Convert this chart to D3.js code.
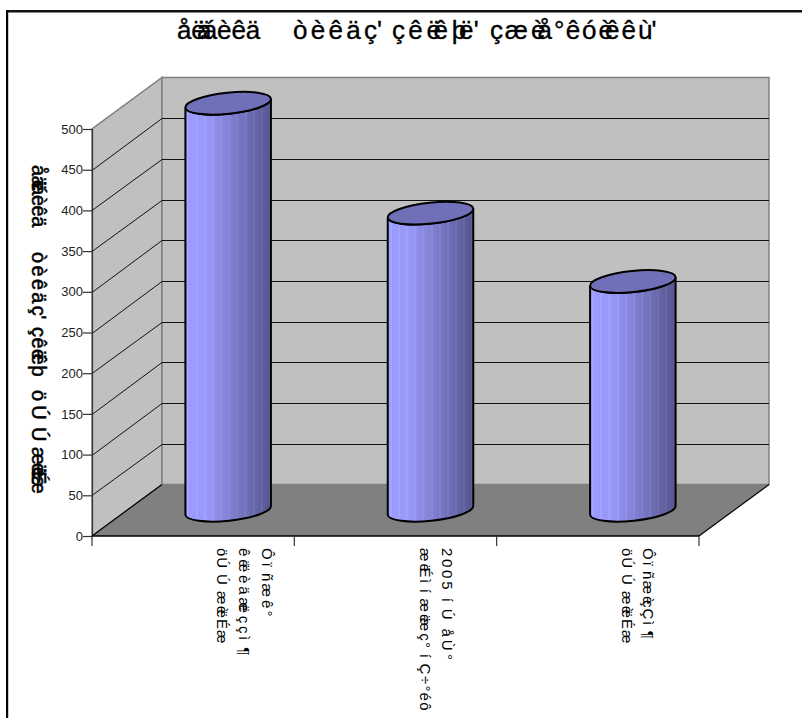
<!DOCTYPE html>
<html><head><meta charset="utf-8">
<script src="https://cdn.jsdelivr.net/npm/d3@7"></script>
<style>html,body{margin:0;padding:0;background:#fff;overflow:hidden}svg{display:block}text{font-family:"Liberation Sans",Arial,sans-serif;fill:#000;white-space:pre}</style>
</head><body><svg id="c" width="802" height="718"></svg>
<script>
// "~" = next glyph overprints the previous one (the source text is garbled that way)
const titleWords = ["åë~ä~áèêä", "òèêäç'", "çêë~êþ~ë'", "çæè~å°êóè~êêù'"];
const yTitleWords = ["åä~ë~áèêä", "òèêäç'", "çêë~êþ", "öÚ", "Ú", "æë~ë~É~æ"];
const categories = ["A", "B", "C"];
const categoryLines = [
  ["Ôï ñæê°", "êë~ëèäæ~ëççì ¶", "öÚ Ú æè~ëÉæ"],
  ["2005 í Ú åÙ°", "æë~Éì í æë~æç° í Ç÷°éô"],
  ["Ôï ñæè~çÇì ¶", "öÚ Ú æè~ëÉæ"]
];
const values = [500, 365, 281];
const yTicks = [0, 50, 100, 150, 200, 250, 300, 350, 400, 450, 500];

const svg = d3.select("#c");
const y = d3.scaleLinear().domain([0, 500]).range([536, 129]);
const x = d3.scaleBand().domain(categories).range([92, 699]);
const depthX = 70, depthY = 51.5;
const ctx = document.createElement("canvas").getContext("2d");

function glyphLayout(str, font, span, size) {
  ctx.font = font;
  let pos = 0, prev = 0, out = [], over = false;
  for (const ch of str) {
    if (ch === "~") { over = true; continue; }
    if (over) { pos -= prev * 0.6; over = false; }
    if (ch === "'") pos -= size * 0.1;
    out.push({ ch, pos });
    prev = ctx.measureText(ch).width;
    pos += prev;
  }
  const k = span ? span / pos : 1;
  out.forEach(d => d.pos *= k);
  return out;
}
function drawText(str, opt) {
  const font = `${opt.weight || "normal"} ${opt.size}px "Liberation Sans"`;
  const gl = glyphLayout(str, font, opt.span, opt.size);
  svg.append("text").attr("transform", `translate(${opt.x},${opt.y}) rotate(${opt.rot || 0})`)
    .attr("x", gl.map(d => d.pos.toFixed(1)).join(" "))
    .attr("font-size", opt.size).attr("font-weight", opt.weight || "normal")
    .attr("stroke", opt.stroke ? "#000" : "none").attr("stroke-width", opt.stroke || 0)
    .text(gl.map(d => d.ch).join(""));
}

// frame
svg.append("rect").attr("x", 6).attr("y", 10).attr("width", 800).attr("height", 2.5).attr("fill", "#111");
svg.append("rect").attr("x", 6).attr("y", 10).attr("width", 2.2).attr("height", 710).attr("fill", "#000");

// walls
const x0 = x.range()[0], x1 = x.range()[1];
const Y0 = y(0), Ytop = y(500);
const poly = (pts, fill, stroke, sw) => svg.append("polygon").attr("points", pts.map(p => p.join(",")).join(" "))
  .attr("fill", fill).attr("stroke", stroke || "none").attr("stroke-width", sw || 0);
poly([[x0, Y0], [x0, Ytop], [x0 + depthX, Ytop - depthY], [x0 + depthX, Y0 - depthY]], "#c0c0c0", "#808080", 1.5);
poly([[x0 + depthX, Ytop - depthY], [x1 + depthX, Ytop - depthY], [x1 + depthX, Y0 - depthY], [x0 + depthX, Y0 - depthY]], "#c0c0c0", "#808080", 1.5);
poly([[x0, Y0], [x0 + depthX, Y0 - depthY], [x1 + depthX, Y0 - depthY], [x1, Y0]], "#808080");

// gridlines
yTicks.filter(t => t > 0 && t < 500).forEach(t => {
  svg.append("polyline").attr("fill", "none").attr("stroke", "#111").attr("stroke-width", 1)
    .attr("points", `${x0},${Math.round(y(t))+.5} ${x0 + depthX},${Math.round(y(t) - depthY)+.5} ${x1 + depthX},${Math.round(y(t) - depthY)+.5}`);
});
// floor edges
[x0, x1].forEach(px => svg.append("path").attr("fill", "none").attr("stroke", "#000").attr("stroke-width", 1.2)
  .attr("d", `M${px},${Y0}L${px + depthX},${Y0 - depthY}`));

// axes
const yAxis = d3.axisLeft(y).tickValues(yTicks).tickSize(9).tickPadding(0);
const yG = svg.append("g").attr("transform", `translate(${x0},0)`).call(yAxis);
yG.selectAll("text").attr("font-size", 13).attr("font-family", '"Liberation Sans"').style("fill", "#222");
yG.selectAll("line,path").attr("stroke", "#333").attr("stroke-width", 1.2);
const xG = svg.append("g").attr("transform", `translate(0,${Y0})`);
xG.append("line").attr("x1", x0).attr("x2", x1).attr("stroke", "#000").attr("stroke-width", 1.4);
categories.map(c => x(c)).concat([x1]).forEach(px => {
  xG.append("line").attr("x1", px).attr("x2", px).attr("y2", 10).attr("stroke", "#333").attr("stroke-width", 1.2);
});

// cylinder gradient
const defs = svg.append("defs");
const grad = defs.append("linearGradient").attr("id", "cyl");
const col = d3.interpolateRgb("#9c9cff", "#56568f");
const bands = 42;
for (let i = 0; i < bands; i++) {
  const t = i / (bands - 1);
  const c = d3.color(col(t < .25 ? t * .25 : .0625 + (t - .25) * 1.25));
  if (i % 4 === 1) { c.r += 8; c.g += 8; c.b += 8; }
  grad.append("stop").attr("offset", i / bands).attr("stop-color", c.formatHex());
  grad.append("stop").attr("offset", (i + 1) / bands).attr("stop-color", c.formatHex());
}

// cylinders
const rx = 43, ry = 10.5, rotDeg = -6, a = rotDeg * Math.PI / 180;
categories.forEach((c, i) => {
  const cx = x(c) + x.bandwidth() / 2 + depthX / 2;
  const by = Y0 - depthY / 2, ty = y(values[i]) - depthY / 2;
  const ex = rx * Math.cos(a), ey = rx * Math.sin(a);
  const g = svg.append("g");
  g.append("path")
    .attr("d", `M${cx - ex},${ty - ey}L${cx - ex},${by - ey}A${rx},${ry} ${rotDeg} 0 0 ${cx + ex},${by + ey}L${cx + ex},${ty + ey}A${rx},${ry} ${rotDeg} 0 1 ${cx - ex},${ty - ey}Z`)
    .attr("fill", "url(#cyl)").attr("stroke", "#000").attr("stroke-width", 2);
  g.append("ellipse").attr("rx", rx).attr("ry", ry)
    .attr("transform", `translate(${cx},${ty}) rotate(${rotDeg})`)
    .attr("fill", "#7070b8").attr("stroke", "#000").attr("stroke-width", 2);
});

// text
const titleSpans = [[177, 83], [293, 90], [392, 88], [490, 167]];
titleWords.forEach((w, i) => drawText(w, { x: titleSpans[i][0], y: 39, size: 26, stroke: 0.35, span: titleSpans[i][1] }));
const ySpans = [[165, 62], [252, 68], [327, 50], [390, 35], [427, 14], [447, 45]];
yTitleWords.forEach((w, i) => drawText(w, { x: 32, y: ySpans[i][0], size: 20, stroke: 0.5, rot: 90, span: ySpans[i][1] }));
const lineX = [[262, 239, 217], [442, 420], [643, 622]];
const lineSpan = [[70, 110, 97], [114, 164], [92, 97]];
categoryLines.forEach((lines, i) => lines.forEach((l, j) => {
  drawText(l, { x: lineX[i][j], y: 548, size: 15, rot: 90, span: lineSpan[i][j] });
}));
</script></body></html>
